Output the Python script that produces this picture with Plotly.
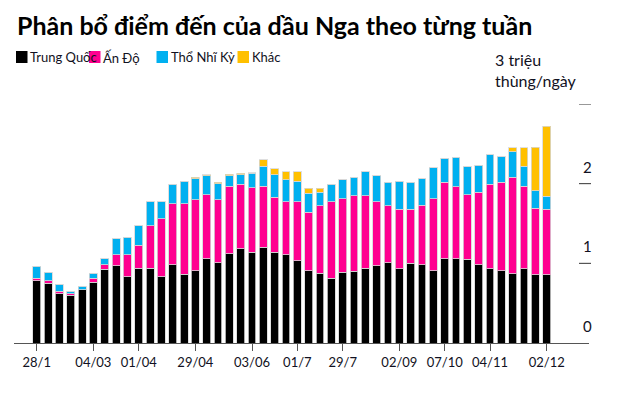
import plotly.graph_objects as go

# Tick labels (category index -> label)
tick_idx = [0, 5, 9, 14, 19, 23, 27, 32, 36, 40, 45]
tick_text = ["28/1", "04/03", "01/04", "29/04", "03/06", "01/7", "29/7", "02/09", "07/10", "04/11", "02/12"]

series_names = ["Trung Quốc", "Ấn Độ", "Thổ Nhĩ Kỳ", "Khác"]
series_colors = ["#000000", "#FF0090", "#00B0F0", "#FFC000"]

# cumulative tops (million barrels/day)
china_top = [0.78, 0.75, 0.62, 0.60, 0.67, 0.765, 0.925, 0.97, 0.83, 0.94,
             0.94, 0.83, 0.98, 0.86, 0.91, 1.06, 1.01, 1.12, 1.18, 1.14,
             1.20, 1.14, 1.11, 1.03, 0.91, 0.875, 0.81, 0.89, 0.90, 0.94,
             0.97, 1.01, 0.93, 1.00, 0.98, 0.91, 1.06, 1.06, 1.05, 0.98,
             0.93, 0.91, 0.87, 0.93, 0.855, 0.855]
india_top = [0.81, 0.78, 0.65, 0.62, 0.67, 0.81, 0.98, 1.11, 1.11, 1.23,
             1.47, 1.56, 1.75, 1.75, 1.80, 1.86, 1.80, 1.97, 1.99, 1.95,
             1.97, 1.83, 1.77, 1.77, 1.64, 1.72, 1.77, 1.81, 1.85, 1.85,
             1.77, 1.72, 1.68, 1.68, 1.73, 1.81, 2.02, 1.96, 1.86, 1.89,
             1.99, 2.02, 2.08, 1.97, 1.69, 1.68]
turkey_top = [0.966, 0.89, 0.74, 0.65, 0.715, 0.875, 1.06, 1.31, 1.33, 1.47,
              1.77, 1.77, 1.99, 2.03, 2.06, 2.10, 2.00, 2.10, 2.11, 2.13,
              2.22, 2.11, 2.05, 2.03, 1.88, 1.89, 1.99, 2.05, 2.08, 2.15,
              2.10, 2.02, 2.03, 2.02, 2.06, 2.20, 2.32, 2.33, 2.21, 2.23,
              2.36, 2.34, 2.40, 2.22, 1.91, 1.84]
other_top = [0.966, 0.89, 0.74, 0.65, 0.715, 0.875, 1.06, 1.31, 1.33, 1.47,
             1.77, 1.77, 1.99, 2.03, 2.08, 2.11, 2.02, 2.12, 2.13, 2.14,
             2.30, 2.19, 2.15, 2.15, 1.94, 1.94, 1.99, 2.05, 2.08, 2.15,
             2.10, 2.02, 2.03, 2.02, 2.06, 2.20, 2.32, 2.33, 2.21, 2.23,
             2.36, 2.34, 2.45, 2.45, 2.46, 2.72]

y_tick_vals = [0, 1, 2, 3]
y_tick_text = ["0", "1", "2", "3 triệu<br>thùng/ngày"]

n = len(china_top)
x = list(range(n))
china = china_top
india = [max(india_top[i] - china_top[i], 0) for i in range(n)]
turkey = [max(turkey_top[i] - india_top[i], 0) for i in range(n)]
other = [max(other_top[i] - turkey_top[i], 0) for i in range(n)]
values = [china, india, turkey, other]

fig = go.Figure()
for name, col, vals in zip(series_names, series_colors, values):
    fig.add_trace(go.Bar(x=x, y=vals, name=name,
                         marker=dict(color=col, line=dict(color="rgba(215,215,215,0.8)", width=1)),
                         showlegend=False, hoverinfo="skip"))

# plot area: x px 14..589, y px 104..343
L, R, T, B = 14, 589, 104, 343
W, H = 621, 397
px_per = 11.333
x0 = (L - 36.7) / px_per
x1 = (R - 36.7) / px_per

def pxx(p):
    return (p - L) / (R - L)

def pxy(p):
    return (B - p) / (B - T)

shapes = []
annotations = []
FONT = "Lato"
TXT = "#111122"

# y-axis tick dashes and labels on the right
for v, t in zip(y_tick_vals, y_tick_text):
    if v > 0:
        shapes.append(dict(type="line", xref="paper", yref="y", x0=pxx(579), x1=pxx(591), y0=v, y1=v,
                           line=dict(color="#333333", width=1)))
    if v == 3:
        annotations.append(dict(xref="paper", yref="paper", x=pxx(493), y=pxy(70), text=t, showarrow=False,
                                xanchor="left", yanchor="middle", align="left",
                                font=dict(family=FONT, size=16, color=TXT)))
    else:
        annotations.append(dict(xref="paper", yref="y", x=pxx(587), y=v, yshift=17, text=t, showarrow=False,
                                xanchor="center", yanchor="middle",
                                font=dict(family=FONT, size=15, color=TXT)))

# legend (manual)
leg_sq = [16, 89, 156.5, 237.5]
for name, col, sx in zip(series_names, series_colors, leg_sq):
    annotations.append(dict(xref="paper", yref="paper", x=pxx(sx + 12), y=pxy(57), text=name, showarrow=False,
                            xanchor="left", yanchor="middle", font=dict(family=FONT, size=13, color=TXT)))
for name, col, sx in zip(series_names, series_colors, leg_sq):
    shapes.append(dict(type="rect", xref="paper", yref="paper", x0=pxx(sx), x1=pxx(sx + 11.5),
                       y0=pxy(63), y1=pxy(51), fillcolor=col, line=dict(width=0)))

# title
annotations.append(dict(xref="paper", yref="paper", x=pxx(15), y=pxy(25), text="<b>Phân bổ điểm đến của dầu Nga theo từng tuần</b>",
                        showarrow=False, xanchor="left", yanchor="middle",
                        font=dict(family=FONT, size=25, color="#000000")))

fig.update_layout(
    barmode="stack",
    bargap=0.3,
    width=W, height=H,
    margin=dict(l=L, r=W - R, t=T, b=H - B, pad=0),
    paper_bgcolor="white", plot_bgcolor="white",
    shapes=shapes, annotations=annotations,
    hovermode=False,
    xaxis=dict(range=[x0, x1], tickmode="array", tickvals=tick_idx, ticktext=tick_text,
               showline=True, linecolor="#555555", linewidth=1, ticks="outside", ticklen=7,
               tickcolor="#555555", showgrid=False, zeroline=False,
               tickfont=dict(family=FONT, size=13, color=TXT)),
    yaxis=dict(range=[0, 3], showticklabels=False, showgrid=False, zeroline=False, showline=False),
    font=dict(family=FONT),
)

fig.write_html("out.html", config={"displayModeBar": False, "staticPlot": True},
               post_script="document.body.style.margin='0';document.body.style.overflow='hidden';")
